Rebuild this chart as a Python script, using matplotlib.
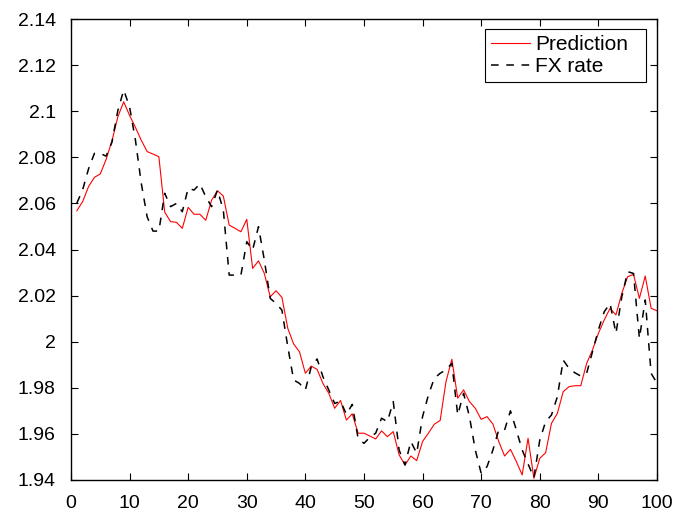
import matplotlib.pyplot as plt
from matplotlib.ticker import FormatStrFormatter
import numpy as np

days = np.arange(1, 101)

prediction = [
    2.0568, 2.0608, 2.0673, 2.0713, 2.0728, 2.0791, 2.0872, 2.0976, 2.1041, 2.0982,
    2.0930, 2.0874, 2.0825, 2.0814, 2.0803, 2.0562, 2.0521, 2.0518, 2.0492, 2.0583,
    2.0553, 2.0553, 2.0527, 2.0614, 2.0655, 2.0632, 2.0506, 2.0492, 2.0477, 2.0531,
    2.0318, 2.0351, 2.0296, 2.0195, 2.0221, 2.0192, 2.0058, 1.9990, 1.9956, 1.9863,
    1.9894, 1.9880, 1.9819, 1.9776, 1.9711, 1.9745, 1.9660, 1.9687, 1.9603, 1.9603,
    1.9591, 1.9578, 1.9613, 1.9588, 1.9610, 1.9509, 1.9465, 1.9504, 1.9484, 1.9567,
    1.9603, 1.9642, 1.9658, 1.9827, 1.9924, 1.9755, 1.9791, 1.9740, 1.9711, 1.9663,
    1.9675, 1.9643, 1.9567, 1.9504, 1.9533, 1.9480, 1.9422, 1.9581, 1.9407, 1.9494,
    1.9518, 1.9646, 1.9689, 1.9783, 1.9805, 1.9809, 1.9809, 1.9906, 1.9964, 2.0036,
    2.0094, 2.0145, 2.0116, 2.0210, 2.0282, 2.0292, 2.0188, 2.0285, 2.0145, 2.0134,
]

fx_rate = [
    2.0601, 2.0660, 2.0750, 2.0817, 2.0817, 2.0805, 2.0866, 2.1003, 2.1092, 2.1019,
    2.0875, 2.0687, 2.0542, 2.0480, 2.0480, 2.0644, 2.0586, 2.0600, 2.0564, 2.0666,
    2.0658, 2.0685, 2.0629, 2.0586, 2.0658, 2.0571, 2.0289, 2.0289, 2.0289, 2.0434,
    2.0398, 2.0499, 2.0354, 2.0188, 2.0166, 2.0137, 1.9978, 1.9834, 1.9819, 1.9790,
    1.9891, 1.9925, 1.9848, 1.9790, 1.9732, 1.9742, 1.9685, 1.9728, 1.9580, 1.9559,
    1.9585, 1.9603, 1.9668, 1.9653, 1.9740, 1.9530, 1.9465, 1.9567, 1.9516, 1.9675,
    1.9769, 1.9841, 1.9863, 1.9878, 1.9906, 1.9682, 1.9776, 1.9675, 1.9530, 1.9429,
    1.9458, 1.9530, 1.9617, 1.9617, 1.9700, 1.9617, 1.9530, 1.9470, 1.9410, 1.9573,
    1.9653, 1.9682, 1.9761, 1.9920, 1.9884, 1.9865, 1.9851, 1.9863, 1.9957, 2.0051,
    2.0130, 2.0166, 2.0036, 2.0195, 2.0304, 2.0296, 2.0014, 2.0181, 1.9863, 1.9820,
]

plt.rcParams['font.family'] = ['Liberation Sans', 'DejaVu Sans']

fig = plt.figure(figsize=(6.89, 5.15), dpi=100)
ax = fig.add_axes([0.103, 0.068, 0.8505, 0.895])

ax.plot(days, prediction, color="red", linewidth=0.8, label="Prediction")
ax.plot(days, fx_rate, color="black", linewidth=1.1, linestyle=(0, (5, 5)),
        label="FX rate")

ax.set_xlim(0, 100)
ax.set_ylim(1.94, 2.14)
ax.set_xticks(np.arange(0, 101, 10))
ax.set_yticks(np.arange(1.94, 2.1401, 0.02))
ax.yaxis.set_major_formatter(FormatStrFormatter('%g'))
ax.tick_params(direction="in", top=True, right=True, labelsize=14,
               length=5, width=0.8)
ax.tick_params(axis="x", pad=11)
ax.tick_params(axis="y", pad=11)
for s in ax.spines.values():
    s.set_linewidth(1.0)

# legend box spans roughly x 485-646 px, y 29-89 px in the reference
leg = ax.legend(loc="upper left", bbox_to_anchor=(0.7065, 0.848, 0.2747, 0.1303),
                mode="expand", borderaxespad=0, fontsize=15, frameon=True,
                fancybox=False, edgecolor="black", framealpha=1,
                handlelength=1.85, handletextpad=0.25, borderpad=0.3,
                labelspacing=0.12)
leg.get_frame().set_linewidth(0.8)

fig.savefig("out.png", dpi=100)
